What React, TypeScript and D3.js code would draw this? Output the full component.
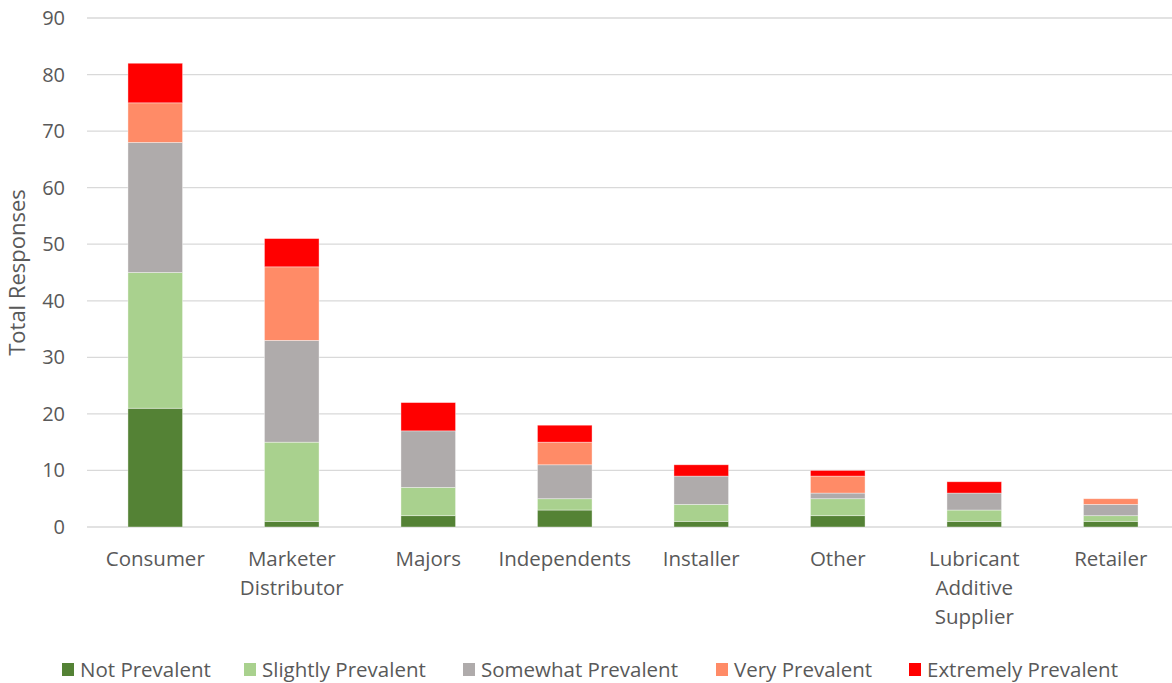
import React from 'react';
import { scaleBand, scaleLinear, stack } from 'd3';

const categories = [
  ['Consumer'],
  ['Marketer', 'Distributor'],
  ['Majors'],
  ['Independents'],
  ['Installer'],
  ['Other'],
  ['Lubricant', 'Additive', 'Supplier'],
  ['Retailer'],
];

const seriesNames = [
  'Not Prevalent',
  'Slightly Prevalent',
  'Somewhat Prevalent',
  'Very Prevalent',
  'Extremely Prevalent',
];

const notPrevalent = [21, 1, 2, 3, 1, 2, 1, 1];
const slightlyPrevalent = [24, 14, 5, 2, 3, 3, 2, 1];
const somewhatPrevalent = [23, 18, 10, 6, 5, 1, 3, 2];
const veryPrevalent = [7, 13, 0, 4, 0, 3, 0, 1];
const extremelyPrevalent = [7, 5, 5, 3, 2, 1, 2, 0];

const yTicks = [0, 10, 20, 30, 40, 50, 60, 70, 80, 90];

const colors = ['#548235', '#a9d18e', '#afabab', '#ff8b67', '#ff0000'];
const legendX = [62, 244, 463, 716, 909];

const dim = { width: 1172, height: 683, left: 87, right: 1179, top: 18, bottom: 527 };
const font = '"Open Sans", sans-serif';

const App = () => {
  const values = [notPrevalent, slightlyPrevalent, somewhatPrevalent, veryPrevalent, extremelyPrevalent];
  const rows = categories.map((c, i) => {
    const row: any = { key: c.join(' ') };
    seriesNames.forEach((s, j) => (row[s] = values[j][i]));
    return row;
  });
  const layers = stack<any>().keys(seriesNames)(rows);

  const x = scaleBand()
    .domain(rows.map((r) => r.key))
    .range([dim.left, dim.right])
    .paddingInner(0.6)
    .paddingOuter(0.3);
  const y = scaleLinear().domain([0, 90]).range([dim.bottom, dim.top]);

  return (
    <svg
      width={dim.width}
      height={dim.height}
      style={{ position: 'absolute', left: 0, top: 0, background: '#fff' }}
      fontFamily={font}
    >
      {yTicks.map((t) => (
        <g key={t}>
          <line x1={dim.left} x2={dim.width} y1={y(t)} y2={y(t)} stroke="#d9d9d9" strokeWidth={1.3} />
          <text x={65} y={y(t)} dy="0.35em" textAnchor="end" fontSize={20} fill="#595959">
            {t}
          </text>
        </g>
      ))}
      {layers.map((layer, li) => (
        <g key={layer.key} fill={colors[li]}>
          {layer.map((d, i) =>
            d[1] - d[0] > 0 ? (
              <rect
                key={i}
                x={x(d.data.key)}
                y={y(d[1])}
                width={x.bandwidth()}
                height={y(d[0]) - y(d[1])}
                stroke="#ffffff"
                strokeOpacity={0.5}
                strokeWidth={0.75}
              />
            ) : null
          )}
        </g>
      ))}
      {categories.map((c) => (
        <text
          key={c.join()}
          x={(x(c.join(' ')) as number) + x.bandwidth() / 2}
          y={566}
          textAnchor="middle"
          fontSize={20.5}
          fill="#595959"
        >
          {c.map((line, k) => (
            <tspan key={k} x={(x(c.join(' ')) as number) + x.bandwidth() / 2} dy={k === 0 ? 0 : 29}>
              {line}
            </tspan>
          ))}
        </text>
      ))}
      <text
        transform={`translate(25,${(dim.top + dim.bottom) / 2}) rotate(-90)`}
        textAnchor="middle"
        fontSize={22}
        fill="#595959"
      >
        Total Responses
      </text>
      {seriesNames.map((s, i) => (
        <g key={s}>
          <rect x={legendX[i]} y={663} width={12} height={13} fill={colors[i]} />
          <text x={legendX[i] + 18} y={670} dy="0.35em" fontSize={20.5} fill="#595959">
            {s}
          </text>
        </g>
      ))}
    </svg>
  );
};

export default App;
